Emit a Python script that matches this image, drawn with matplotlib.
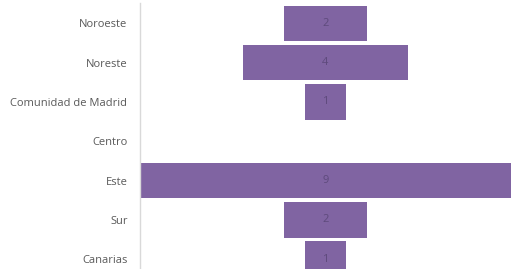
import matplotlib
matplotlib.use("Agg")
import matplotlib.pyplot as plt

categories = ["Noroeste", "Noreste", "Comunidad de Madrid", "Centro", "Este", "Sur", "Canarias"]
values = [2, 4, 1, 0, 9, 2, 1]

plt.rcParams['font.family'] = ['Open Sans', 'DejaVu Sans']

fig = plt.figure(figsize=(5.11, 2.69), dpi=100)
ax = fig.add_axes([140/511, 0, 371/511, 266.5/269])

ypos = list(range(len(categories)))
lefts = [-v/2 for v in values]
ax.barh(ypos, values, left=lefts, height=0.9, color="#8064A2", edgecolor="none")
for y, v in zip(ypos, values):
    if v > 0:
        ax.text(0, y, str(v), ha="center", va="center", fontsize=8, color="#5E4A7C")

ax.set_xlim(-4.5, 4.5)
ax.set_ylim(6.25, -0.53)
ax.set_yticks(ypos)
ax.set_yticklabels(categories, fontsize=8, color="#595959")
ax.tick_params(axis="y", length=0, pad=9)
ax.set_xticks([])
for s in ["top", "right", "bottom"]:
    ax.spines[s].set_visible(False)
ax.spines["left"].set_color("#D9D9D9")
ax.spines["left"].set_linewidth(1)

fig.savefig("out.png", dpi=100)
